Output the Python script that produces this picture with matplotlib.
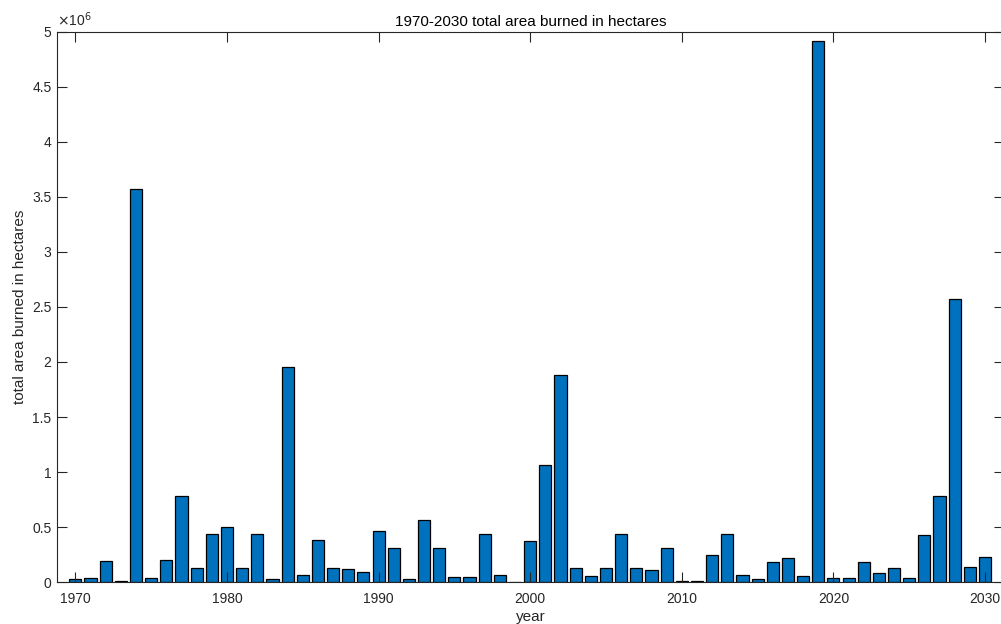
import numpy as np
import matplotlib.pyplot as plt

plt.rcParams['font.family'] = ['Liberation Sans', 'DejaVu Sans']

# years and burned area (hectares)
years = np.arange(1970, 2031)
area_mha = [
    0.03, 0.04, 0.19, 0.012, 3.568, 0.04, 0.20, 0.786, 0.127, 0.44,   # 1970s
    0.50, 0.127, 0.44, 0.027, 1.957, 0.064, 0.381, 0.127, 0.118, 0.094,  # 1980s
    0.47, 0.314, 0.027, 0.566, 0.314, 0.051, 0.051, 0.438, 0.064, 0.0,   # 1990s
    0.375, 1.065, 1.885, 0.127, 0.057, 0.127, 0.438, 0.133, 0.112, 0.314,  # 2000s
    0.009, 0.015, 0.251, 0.438, 0.064, 0.03, 0.187, 0.221, 0.06, 4.911,  # 2010s
    0.036, 0.036, 0.187, 0.087, 0.127, 0.036, 0.429, 0.781, 2.569, 0.139,  # 2020s
    0.232,
]
area = np.array(area_mha) * 1e6

xticks = [1970, 1980, 1990, 2000, 2010, 2020, 2030]
yticks = np.arange(0, 5.01, 0.5)
ytick_labels = ['0', '0.5', '1', '1.5', '2', '2.5', '3', '3.5', '4', '4.5', '5']

fg = '#262626'
fig = plt.figure(figsize=(10.01, 6.24), dpi=100)
# axes box: x 57..1004 px (right spine falls just outside the image), y 31.5..582.3 px
ax = fig.add_axes([57 / 1001, 1 - 582.3 / 624, (1004 - 57) / 1001, (582.3 - 31.5) / 624])

ax.bar(years, area, width=0.8, color='#0072BD', edgecolor='black', linewidth=0.9)

ax.set_xlim(1968.79, 2031.25)
ax.set_ylim(0, 5e6)
ax.set_xticks(xticks)
ax.set_yticks(yticks * 1e6)
ax.set_yticklabels(ytick_labels)

ax.tick_params(direction='in', top=True, right=True, length=7, width=0.8,
               colors=fg, labelsize=10)
ax.tick_params(axis='x', pad=7)
ax.tick_params(axis='y', pad=4)
for s in ax.spines.values():
    s.set_color(fg)
    s.set_linewidth(0.8)

ax.text(0.0, 1.005, r'$\times$10$^{6}$', transform=ax.transAxes, ha='left', va='bottom',
        fontsize=10, color=fg)

ax.set_title('1970-2030 total area burned in hectares', fontsize=11, color='black', pad=4)
ax.set_xlabel('year', fontsize=11, color=fg, labelpad=3)
ax.set_ylabel('total area burned in hectares', fontsize=11, color=fg, labelpad=4)

fig.savefig('out.png', dpi=100)
